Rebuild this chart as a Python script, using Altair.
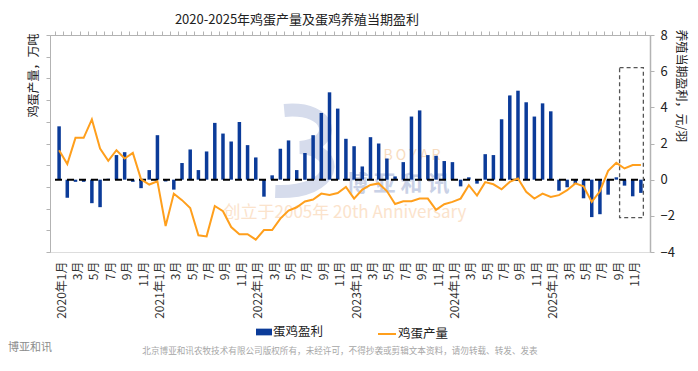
import json
import altair as alt
import pandas as pd

# ---------------- data ----------------
years = [2020, 2021, 2022, 2023, 2024, 2025]
months = list(range(1, 13))

# 蛋鸡养殖当期盈利 (元/羽), monthly 2020-01 .. 2025-12
profit = [
    2.95, -1.00, -0.12, -0.12, -1.30, -1.52, 0.05, 1.36, 1.52, -0.12, -0.47, 0.53,
    2.46, -0.10, -0.55, 0.92, 1.67, 0.53, 1.56, 3.14, 2.55, 2.11, 3.19, 1.91,
    1.23, -0.94, 0.24, 1.71, 2.17, 0.53, 1.47, 2.46, 3.69, 4.83, 3.93, 2.26,
    1.85, 0.73, 2.35, 2.00, 1.17, 0.18, 0.97, 3.49, 3.83, 1.36, 1.32, 1.03,
    0.97, -0.37, 0.13, -0.22, 1.41, 1.36, 3.34, 4.66, 4.92, 4.28, 3.49, 4.22,
    3.78, -0.61, -0.42, -0.24, -1.03, -2.07, -1.91, -0.83, 0.13, -0.33, -0.92, -0.73,
]

# 鸡蛋产量 (万吨), monthly 2020-01 .. 2025-12
output = [
    296.9, 290.5, 302.6, 302.6, 311.1, 297.7, 292.0, 296.9, 293.1, 295.7, 283.5, 281.1,
    282.6, 262.0, 276.9, 273.9, 270.3, 257.7, 257.2, 271.2, 268.8, 261.5, 258.2, 258.2,
    255.7, 260.1, 260.1, 265.4, 269.1, 270.6, 273.3, 274.2, 276.9, 276.3, 277.2, 280.0,
    274.6, 278.8, 280.9, 281.6, 278.1, 272.1, 273.4, 273.4, 274.6, 274.6, 269.4, 272.0,
    273.1, 274.6, 280.8, 276.0, 282.2, 281.2, 278.9, 282.3, 283.9, 277.7, 274.6, 276.9,
    275.4, 276.2, 278.5, 281.6, 280.3, 273.1, 278.0, 287.4, 291.1, 288.5, 290.1, 290.1,
]

series_names = ["蛋鸡盈利", "鸡蛋产量"]
profit_ticks = [-4, -2, 0, 2, 4, 6, 8]
output_ticks = [250, 260, 270, 280, 290, 300, 310, 320, 330, 340, 350]

# forecast box (months Sep-Dec 2025, profit axis units)
box_x = [68.4]
box_x2 = [71.3]
box_y = [6.2]
box_y2 = [-2.1]

month_labels = []
for y in years:
    for m in months:
        if m == 1:
            month_labels.append(f"{y}年1月")
        elif m % 2 == 1:
            month_labels.append(f"{m}月")
        else:
            month_labels.append("")

n = len(profit)
idx = list(range(n))
df = pd.DataFrame({
    "idx": idx,
    "profit": profit,
    "output": output,
    "s1": series_names[0],
    "s2": series_names[1],
})
box_df = pd.DataFrame({"idx": box_x, "x2": box_x2, "profit": box_y, "y2": box_y2})

FONT = "Noto Sans CJK SC"
BLUE = "#0b3b99"
ORANGE = "#ff9f1c"
GRAY_AX = "#b3b3b3"

xdom = [-0.5, n - 0.5]
zero_df = pd.DataFrame({"idx": [xdom[0]], "x2": [xdom[1]], "profit": [0]})
label_expr = json.dumps(month_labels, ensure_ascii=False) + "[round(datum.value)]"
xscale = alt.Scale(domain=xdom, nice=False, zero=False)
rscale = alt.Scale(domain=[-4, 8], nice=False)

lab_axis = alt.Axis(
    values=idx, labelExpr=label_expr, labelAngle=-90, labelAlign="right",
    labelBaseline="middle", labelFontSize=12, labelColor="#333333",
    labelFont=FONT, labelPadding=9, labelOffset=2, ticks=False, domain=False,
    grid=False, title=None, labelOverlap=False,
)
tick_axis = alt.Axis(
    values=[i - 0.5 for i in range(n + 1)], labels=False, ticks=True, tickSize=4,
    tickColor=GRAY_AX, domain=True, domainColor=GRAY_AX, grid=False, title=None,
)
right_axis = alt.Axis(
    orient="right", values=profit_ticks, grid=False, tickSize=4, tickColor=GRAY_AX,
    domainColor=GRAY_AX, domainWidth=1.5, labelFontSize=13, labelColor="#222222",
    labelFont=FONT, labelPadding=6,
    title="养殖当期盈利，元/羽", titleAngle=90, titleAlign="left", titleBaseline="middle",
    titleX=30, titleY=-6, titleFontSize=12, titleFontWeight="normal",
    titleColor="#222222", titleFont=FONT,
)

bars = alt.Chart(df).mark_bar(size=3.5).encode(
    x=alt.X("idx:Q", scale=xscale, axis=lab_axis),
    y=alt.Y("profit:Q", scale=rscale, axis=right_axis),
    fill=alt.Fill(
        "s1:N",
        scale=alt.Scale(domain=[series_names[0]], range=[BLUE]),
        legend=alt.Legend(
            title=None, orient="none", legendX=206, legendY=289,
            symbolType="M-1,-0.42L1,-0.42L1,0.42L-1,0.42Z",
            symbolSize=256, labelFontSize=12.5, labelFont=FONT, labelColor="#222222",
            labelOffset=1, padding=0, symbolStrokeWidth=0,
        ),
    ),
)

zero_rule = alt.Chart(zero_df).mark_rule(
    color="black", strokeDash=[7, 5], strokeWidth=2
).encode(
    x=alt.X("idx:Q", scale=xscale, axis=lab_axis),
    x2="x2:Q",
    y=alt.Y("profit:Q", scale=rscale, axis=right_axis),
)

box = alt.Chart(box_df).mark_rect(
    fill=None, stroke="#555555", strokeDash=[4, 3], strokeWidth=1.3
).encode(
    x=alt.X("idx:Q", scale=xscale, axis=lab_axis), x2="x2:Q",
    y=alt.Y("profit:Q", scale=rscale, axis=right_axis), y2="y2:Q",
)

right_layer = alt.layer(bars, zero_rule, box)

line = alt.Chart(df).mark_line(strokeWidth=2).encode(
    x=alt.X("idx:Q", scale=xscale, axis=tick_axis),
    y=alt.Y(
        "output:Q",
        scale=alt.Scale(domain=[output_ticks[0], output_ticks[-1]], nice=False, zero=False),
        axis=alt.Axis(
            orient="left", values=output_ticks, labels=False, grid=False, tickSize=4,
            tickColor=GRAY_AX, domainColor=GRAY_AX,
            title="鸡蛋产量，万吨", titleAngle=-90, titleAlign="right", titleBaseline="middle",
            titleX=-17, titleY=-2, titleFontSize=12, titleFontWeight="normal",
            titleColor="#222222", titleFont=FONT,
        ),
    ),
    stroke=alt.Stroke(
        "s2:N",
        scale=alt.Scale(domain=[series_names[1]], range=[ORANGE]),
        legend=alt.Legend(
            title=None, orient="none", legendX=327, legendY=289, symbolType="stroke",
            symbolSize=324, symbolStrokeWidth=2, labelFontSize=12.5, labelFont=FONT,
            labelColor="#222222", labelOffset=1, padding=0,
        ),
    ),
)


def txt(s, x, y, size, color, **kw):
    return alt.Chart(pd.DataFrame({"t": [s]})).mark_text(
        fontSize=size, color=color, font=kw.pop("font", FONT), **kw
    ).encode(text="t:N", x=alt.value(x), y=alt.value(y))


logo = alt.Chart(pd.DataFrame({"t": [0]})).mark_point(
    shape="M-0.35,-0.9 C0.75,-1.0 0.85,-0.15 0.0,-0.08 C0.95,-0.02 0.85,0.95 -0.55,0.9",
    filled=False, stroke="#d6dcec", strokeWidth=13, size=8100, opacity=1,
).encode(x=alt.value(250), y=alt.value(116))

watermark = [
    logo,
    txt("B  O  Y  A  R", 362, 121, 14, "#f8dcc0", baseline="middle"),
    txt("博 亚 和 讯", 348, 149, 22, "#c9d1e6", fontWeight="bold", baseline="middle"),
    txt("创立于2005年 20th Anniversary", 295, 178, 17, "#fbe3cc", baseline="middle"),
]
footer = [
    txt("博亚和讯", -42, 313, 11, "#8c8c8c", align="left", baseline="middle"),
    txt("北京博亚和讯农牧技术有限公司版权所有，未经许可，不得抄袭或剪辑文本资料，请勿转载、转发、发表",
        290, 316, 8.6, "#a6a6a6", align="center", baseline="middle"),
]

chart = alt.layer(
    *watermark, right_layer, line, *footer
).resolve_scale(
    y="independent", fill="independent", stroke="independent"
).resolve_axis(
    x="independent", y="independent"
).properties(
    width=600,
    height=217,
    autosize=alt.AutoSizeParams(type="none"),
    padding={"left": 42, "top": 27, "right": 40, "bottom": 111},
    title=alt.TitleParams(
        "2020-2025年鸡蛋产量及蛋鸡养殖当期盈利", fontSize=13, fontWeight="normal",
        font=FONT, color="#222222", anchor="middle", dx=-53, offset=2,
    ),
).configure_view(stroke=None).configure(background="white")

chart.save("out.html", embed_options={"renderer": "svg", "actions": False})
